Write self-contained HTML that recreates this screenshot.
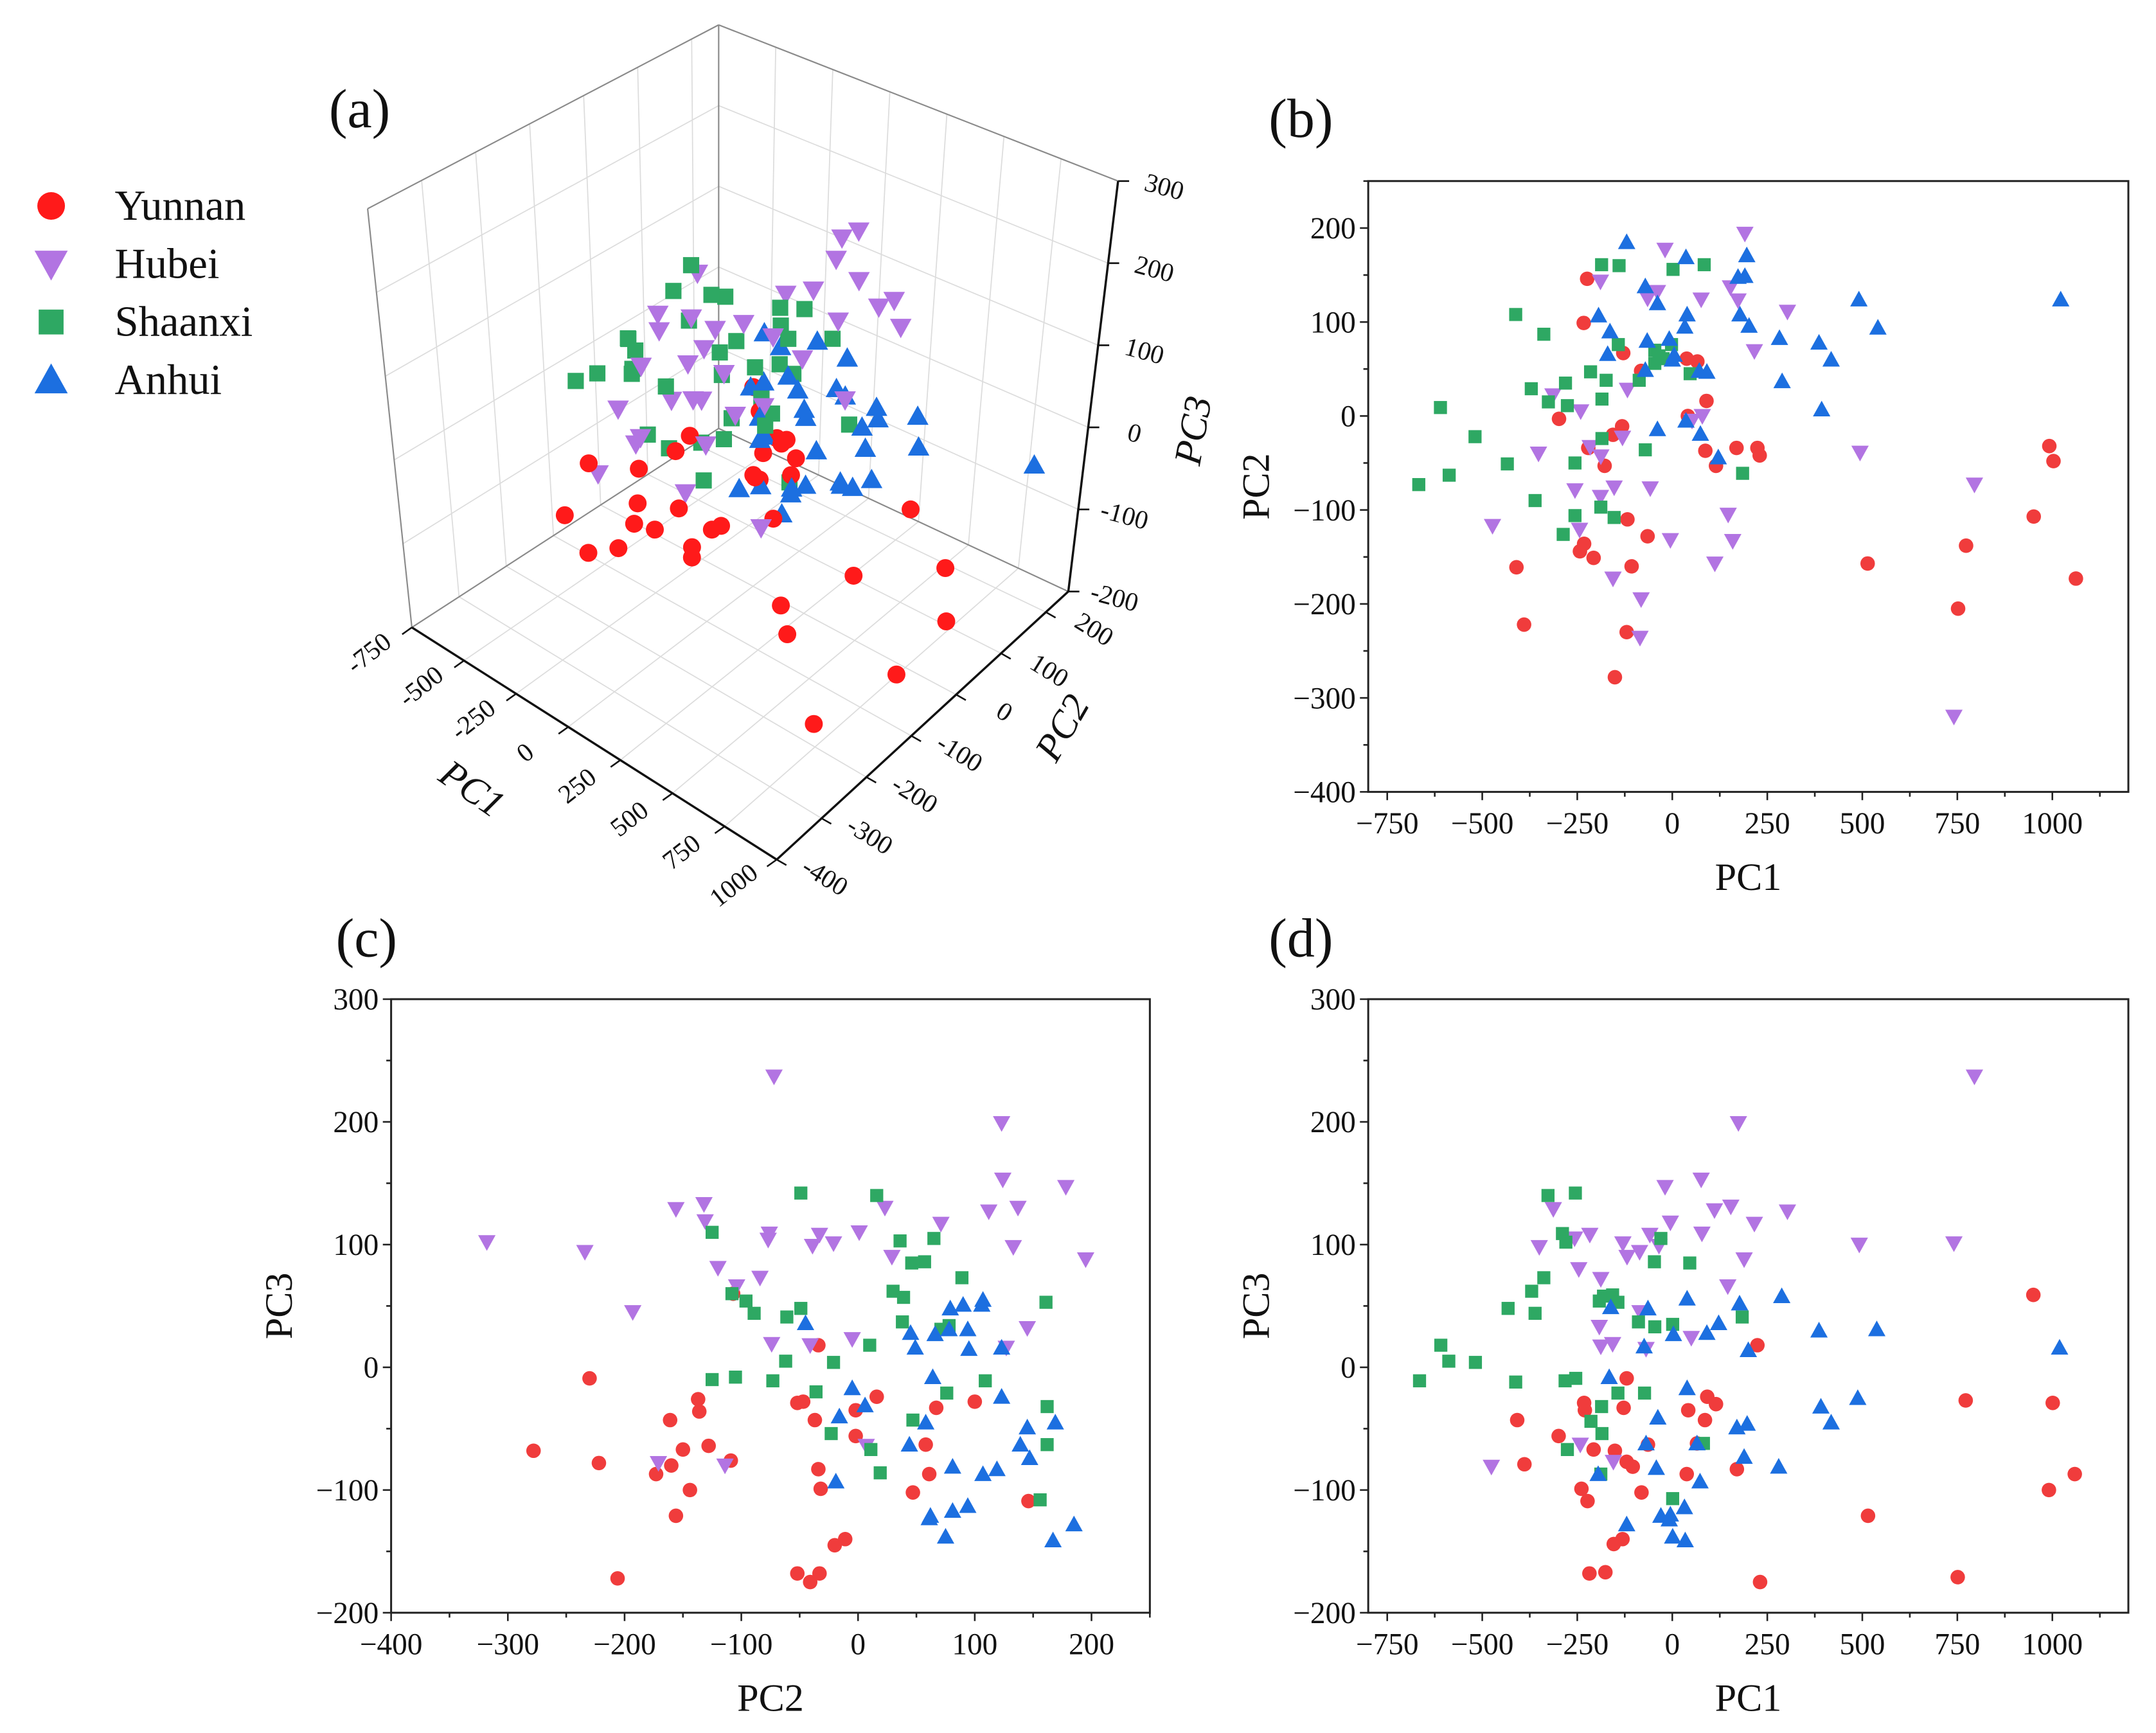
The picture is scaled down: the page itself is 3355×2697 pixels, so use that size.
<!DOCTYPE html>
<html><head><meta charset="utf-8">
<style>
html,body{margin:0;padding:0;background:#fff;}
svg{display:block;}
text{font-family:"Liberation Serif",serif;fill:#111;}
</style></head>
<body>
<svg id="fig" xmlns="http://www.w3.org/2000/svg" width="3355" height="2697" viewBox="0 0 1560 1254">
<rect x="0" y="0" width="1560" height="1254" fill="#fff"/>
<g id="g3d"></g>
<g id="gb"></g>
<g id="gc"></g>
<g id="gd"></g>
<g id="legend"></g>
<text x="238" y="92" font-size="40">(a)</text>
<text x="918" y="99" font-size="40">(b)</text>
<text x="243" y="692" font-size="40">(c)</text>
<text x="918" y="692" font-size="40">(d)</text>
</svg>
<script>
const groups = ["Yunnan","Hubei","Shaanxi","Anhui"];
const colors = ["#ff1a1a","#b274e2","#2ea863","#1c6fe0"];
const colors2d = ["#f03c3c","#b274e2","#2ea863","#1c6fe0"];
// Panel (b): PC1 vs PC2
const bYunnanPC1 = [-224,-233,-129,-82,38,66,90,-298,-132,-156,-221,-178,41,87,115,169,224,230,-118,-65,-232,-243,-207,-107,-410,-390,-120,-151,514,773,951,752,1062,992,1003];
const bYunnanPC2 = [146,99,67,48,61,58,16,-3,-11,-20,-34,-53,0,-37,-53,-34,-34,-42,-110,-128,-136,-144,-151,-160,-161,-222,-230,-278,-157,-138,-107,-205,-173,-32,-48];
const bHubeiPC1 = [191,-19,-189,-39,-65,76,153,173,303,216,-314,-241,-118,52,79,-352,-216,-188,-131,-256,-153,-58,-473,-244,-189,-156,-82,-85,-5,147,159,112,494,795,741];
const bHubeiPC2 = [194,177,143,132,125,124,137,123,111,69,22,5,28,-5,0,-40,-33,-43,-23,-79,-76,-77,-117,-121,-86,-173,-195,-236,-132,-105,-133,-157,-39,-73,-320];
const bShaanxiPC1 = [-186,-140,2,84,-412,-338,-142,-46,-35,-2,-24,-46,47,-215,-174,-371,-281,-87,-326,-276,-185,-610,-519,-185,-434,-256,-71,-587,-667,-361,-256,-188,-153,-287,185];
const bShaanxiPC2 = [161,160,156,161,108,87,76,70,64,76,61,56,45,47,38,29,35,38,15,11,18,9,-22,-24,-51,-50,-36,-63,-73,-90,-106,-97,-108,-126,-61];
const bAnhuiPC1 = [-120,36,196,-71,-39,173,191,491,1022,-194,39,-164,33,-66,-8,-170,178,202,282,386,418,-71,5,0,91,71,289,393,-39,36,74,121,541];
const bAnhuiPC2 = [185,169,171,138,120,148,149,124,124,107,108,90,95,80,82,66,108,96,83,78,60,49,65,60,47,48,37,7,-14,-5,-19,-44,94];
// Panel (d): PC1 vs PC3
const dYunnanPC1 = [950,224,-120,-232,-230,-128,42,92,115,86,-408,-299,-207,-151,-120,-104,-64,-389,38,170,772,1001,1059,991,-239,-223,-81,515,-154,-131,-218,-176,231,751,65];
const dYunnanPC3 = [59,18,-9,-29,-35,-33,-35,-24,-30,-43,-43,-56,-67,-68,-77,-81,-63,-79,-87,-83,-27,-29,-87,-100,-99,-109,-102,-121,-144,-140,-168,-167,-175,-171,-62];
const dHubeiPC1 = [795,174,76,-19,-313,111,154,303,-5,216,-217,-257,-59,78,-350,-130,-35,492,741,-86,-119,189,-246,-188,146,-85,-192,-188,-157,-69,50,-242,-155,-476];
const dHubeiPC3 = [237,199,153,147,129,128,131,127,118,117,108,105,108,109,98,101,99,100,101,94,90,88,80,72,66,45,33,17,19,15,24,-63,-77,-81];
const dShaanxiPC1 = [-327,-255,-289,-280,-30,-47,46,-338,-370,-432,-361,-181,-157,-192,-143,-89,-46,1,184,-609,-588,-518,-665,-412,-282,-254,-143,-73,-186,-214,-185,-276,82,-188,1];
const dShaanxiPC3 = [140,142,109,102,105,86,85,73,62,48,44,58,59,54,53,37,33,35,41,18,5,4,-11,-12,-11,-9,-21,-21,-32,-44,-54,-67,-62,-87,-107];
const dAnhuiPC1 = [288,39,177,-64,-162,386,538,122,91,3,-74,200,1019,-166,39,391,488,418,-38,170,197,-69,65,189,280,-42,73,-195,32,-30,-5,-8,-120,1,34];
const dAnhuiPC3 = [58,56,52,48,49,30,31,36,28,27,17,14,16,-8,-17,-32,-25,-45,-41,-49,-46,-62,-62,-73,-81,-82,-93,-87,-114,-121,-120,-124,-128,-138,-141];
// Panel (c): PC2 vs PC3
const cYunnanPC2 = [-278,-230,-222,-206,-173,-161,-160,-150,-144,-156,-137,-136,-128,-109,-107,-52,-47,-37,-34,-32,-34,-2,-2,16,-52,-41,-33,-20,-11,58,61,67,47,100,146];
const cYunnanPC3 = [-68,-9,-78,-172,-87,-43,-80,-67,-100,-121,-26,-36,-64,-76,60,-29,-28,-43,-83,-99,18,-35,-56,-24,-168,-175,-168,-145,-140,-63,-87,-33,-102,-28,-109];
const cHubeiPC2 = [-318,-234,-193,-156,-132,-131,-120,-104,-84,-76,-77,-72,-33,-39,-21,1,23,29,71,123,124,112,137,133,178,195,145,127,-74,-41,-5,7,-171,-114];
const cHubeiPC3 = [102,94,45,129,133,119,81,66,73,109,104,237,108,99,101,110,130,90,117,199,153,127,130,98,147,88,32,16,19,18,23,-64,-78,-80];
const cShaanxiPC2 = [-125,-49,16,65,36,46,57,89,30,39,161,-108,-96,-89,-61,-49,38,71,78,10,-62,-21,-125,-105,-73,-36,76,109,162,47,-23,11,162,19,156];
const cShaanxiPC3 = [110,142,140,105,103,85,86,73,62,57,53,60,54,44,41,48,37,31,34,18,5,4,-10,-8,-11,-20,-21,-11,-32,-43,-54,-67,-63,-86,-108];
const cAnhuiPC2 = [-45,79,90,107,106,45,49,66,78,94,95,123,64,123,-5,6,-16,58,44,145,169,139,147,-19,81,107,119,62,61,81,94,75,167,185];
const cAnhuiPC3 = [36,48,51,55,51,28,16,27,31,31,15,16,-8,-24,-17,-31,-40,-45,-63,-49,-45,-63,-74,-93,-81,-87,-83,-121,-123,-117,-113,-138,-141,-128];
// Tick labels
const pc1Ticks = [-750,-500,-250,0,250,500,750,1000];
const pc2TicksB = [-400,-300,-200,-100,0,100,200];
const pc2TicksC = [-400,-300,-200,-100,0,100,200];
const pc3Ticks = [-200,-100,0,100,200,300];
const pc2Ticks3d = [-400,-300,-200,-100,0,100,200];

const NS = "http://www.w3.org/2000/svg";
function mk(parent, tag, attrs){
  const e = document.createElementNS(NS, tag);
  for (const k in attrs) e.setAttribute(k, attrs[k]);
  parent.appendChild(e);
  return e;
}
function fmt(v){ return v < 0 ? "\u2212" + Math.abs(v) : String(v); }

function marker(parent, gi, x, y, s, col){
  let e;
  if (gi === 0) e = mk(parent, "circle", {cx:x, cy:y, r:s*0.5, fill:col});
  else if (gi === 1) e = mk(parent, "polygon", {points:`${x-s*0.6},${y-s*0.48} ${x+s*0.6},${y-s*0.48} ${x},${y+s*0.6}`, fill:col});
  else if (gi === 2) e = mk(parent, "rect", {x:x-s*0.45, y:y-s*0.45, width:s*0.9, height:s*0.9, fill:col});
  else e = mk(parent, "polygon", {points:`${x-s*0.6},${y+s*0.48} ${x+s*0.6},${y+s*0.48} ${x},${y-s*0.6}`, fill:col});
  return e;
}

function panel(gid, box, xr, yr, xt, yt, xminor, yminor, series, xtitle, ytitle){
  const g = document.getElementById(gid);
  const [L,R,T,B] = box;
  const sx = v => L + (v - xr[0]) / (xr[1] - xr[0]) * (R - L);
  const sy = v => B - (v - yr[0]) / (yr[1] - yr[0]) * (B - T);
  const fr = mk(g, "rect", {x:L, y:T, width:R-L, height:B-T, fill:"none", stroke:"#222", "stroke-width":1.4});
  
  
  for (let v = Math.ceil(xr[0]/xminor)*xminor; v <= xr[1]; v += xminor) {
    const major = xt.includes(v);
    mk(g, "line", {x1:sx(v), x2:sx(v), y1:B, y2:B+(major?6:3.5), stroke:"#222", "stroke-width":1.2});
  }
  for (let v = Math.ceil(yr[0]/yminor)*yminor; v <= yr[1]; v += yminor) {
    const major = yt.includes(v);
    mk(g, "line", {x1:L, x2:L-(major?6:3.5), y1:sy(v), y2:sy(v), stroke:"#222", "stroke-width":1.2});
  }
  xt.forEach(v => {
    const t = mk(g, "text", {x:sx(v), y:B+30, "font-size":22, "text-anchor":"middle"});
    t.textContent = fmt(v);
    
    
  });
  yt.forEach(v => {
    const t = mk(g, "text", {x:L-9, y:sy(v)+7.5, "font-size":22, "text-anchor":"end"});
    t.textContent = fmt(v);
    
    
  });
  const xtT = mk(g, "text", {x:(L+R)/2, y:B+71, "font-size":28, "text-anchor":"middle"});
  xtT.textContent = xtitle;
  
  
  const cy = (T+B)/2, cx = L - 72;
  const ytT = mk(g, "text", {x:cx, y:cy, "font-size":28, "text-anchor":"middle", transform:`rotate(-90 ${cx} ${cy})`});
  ytT.textContent = ytitle;
  
  
  series.forEach((s, gi) => {
    const sg = mk(g, "g", {});
    
    
    s[0].forEach((xv, i) => {
      const m = marker(sg, gi, sx(xv), sy(s[1][i]), 10.5, colors2d[gi]);
      
      
    });
  });
}

panel("gb", [990,1540,131,573], [-800,1200], [-400,250], pc1Ticks, pc2TicksB, 125, 50,
  [[bYunnanPC1,bYunnanPC2],[bHubeiPC1,bHubeiPC2],[bShaanxiPC1,bShaanxiPC2],[bAnhuiPC1,bAnhuiPC2]], "PC1", "PC2");
panel("gc", [283,832,723,1167], [-400,250], [-200,300], pc2TicksC, pc3Ticks, 50, 50,
  [[cYunnanPC2,cYunnanPC3],[cHubeiPC2,cHubeiPC3],[cShaanxiPC2,cShaanxiPC3],[cAnhuiPC2,cAnhuiPC3]], "PC2", "PC3");
panel("gd", [990,1540,723,1167], [-800,1200], [-200,300], pc1Ticks, pc3Ticks, 125, 50,
  [[dYunnanPC1,dYunnanPC3],[dHubeiPC1,dHubeiPC3],[dShaanxiPC1,dShaanxiPC3],[dAnhuiPC1,dAnhuiPC3]], "PC1", "PC3");

// ---- 3D panel ----
const g3 = document.getElementById("g3d");
const FL = {L:[298,454], F:[562,622], R:[773,428], B:[520,310]};
const TP = {L:[266,151], F:[566,296], R:[809,131], B:[520,18]};
function bil(c, u, v){
  const x = c.L[0]*(1-u)*(1-v) + c.F[0]*u*(1-v) + c.R[0]*u*v + c.B[0]*(1-u)*v;
  const y = c.L[1]*(1-u)*(1-v) + c.F[1]*u*(1-v) + c.R[1]*u*v + c.B[1]*(1-u)*v;
  return [x,y];
}
function P(p1,p2,p3){
  const u = (p1+750)/1750, v = (p2+400)/650, w = (p3+200)/500;
  const a = bil(FL,u,v), b = bil(TP,u,v);
  return [a[0]+(b[0]-a[0])*w, a[1]+(b[1]-a[1])*w];
}
function ln(p, q, col, sw, name){
  const e = mk(g3, "line", {x1:p[0], y1:p[1], x2:q[0], y2:q[1], stroke:col, "stroke-width":sw});
  
  
}
const GC = "#dcdcdc";
// left wall (PC1=-750)
pc2Ticks3d.forEach(v => ln(P(-750,v,-200), P(-750,v,300), GC, 0.8, 'grid-left-wall'));
pc3Ticks.forEach(v => ln(P(-750,-400,v), P(-750,250,v), GC, 0.8, 'grid-left-wall'));
// right wall (PC2=250)
pc1Ticks.forEach(v => ln(P(v,250,-200), P(v,250,300), GC, 0.8, 'grid-right-wall'));
pc3Ticks.forEach(v => ln(P(-750,250,v), P(1000,250,v), GC, 0.8, 'grid-right-wall'));
// floor
pc1Ticks.forEach(v => ln(P(v,-400,-200), P(v,250,-200), GC, 0.8, 'grid-floor'));
pc2Ticks3d.forEach(v => ln(P(-750,v,-200), P(1000,v,-200), GC, 0.8, 'grid-floor'));
// box edges
const EC = "#8a8a8a";
ln(P(-750,-400,-200), P(-750,-400,300), EC, 1, 'box-edge');
ln(P(-750,-400,300), P(-750,250,300), EC, 1, 'box-edge');
ln(P(-750,250,-200), P(-750,250,300), EC, 1, 'box-edge');
ln(P(-750,250,300), P(1000,250,300), EC, 1, 'box-edge');
ln(P(-750,-400,-200), P(-750,250,-200), EC, 1, 'box-edge');
ln(P(-750,250,-200), P(1000,250,-200), EC, 1, 'box-edge');
// axes
ln(P(-750,-400,-200), P(1000,-400,-200), "#111", 1.6, 'pc1-axis');
ln(P(1000,-400,-200), P(1000,250,-200), "#111", 1.6, 'pc2-axis');
ln(P(1000,250,-200), P(1000,250,300), "#111", 1.6, 'pc3-axis');
function lbl3(txt, x, y, rot, size, name, italic){
  const t = mk(g3, "text", {x:x, y:y, "font-size":size, "text-anchor":"middle", "dominant-baseline":"middle", transform:`rotate(${rot} ${x} ${y})`});
  if (italic) t.setAttribute("font-style","italic");
  t.textContent = txt;
  
  
}
pc1Ticks.forEach(v => {
  const p = P(v,-400,-200);
  ln(p, [p[0]-7,p[1]+5], "#111", 1.2, 'pc1-tick');
  lbl3(fmt(v).replace("\u2212","-"), p[0]-30, p[1]+20, -38, 19, 'pc1-tick-label');
});
pc2Ticks3d.forEach(v => {
  const p = P(1000,v,-200);
  ln(p, [p[0]+7,p[1]+4], "#111", 1.2, 'pc2-tick');
  lbl3(fmt(v).replace("\u2212","-"), p[0]+34, p[1]+14, 32, 19, 'pc2-tick-label');
});
pc3Ticks.forEach(v => {
  const p = P(1000,250,v);
  ln(p, [p[0]+8,p[1]], "#111", 1.2, 'pc3-tick');
  lbl3(fmt(v).replace("\u2212","-"), p[0]+33, p[1]+6, 15, 19, 'pc3-tick-label');
});
lbl3("PC1", 340, 573, 35, 28, 'pc1-axis-title', true);
lbl3("PC2", 771, 528, -60, 28, 'pc2-axis-title', true);
lbl3("PC3", 866, 312, -80, 28, 'pc3-axis-title', true);
// triples: pair panel (b) points with panel (d) PC3 via nearest PC1
const bSets = [[bYunnanPC1,bYunnanPC2],[bHubeiPC1,bHubeiPC2],[bShaanxiPC1,bShaanxiPC2],[bAnhuiPC1,bAnhuiPC2]];
const dSets = [[dYunnanPC1,dYunnanPC3],[dHubeiPC1,dHubeiPC3],[dShaanxiPC1,dShaanxiPC3],[dAnhuiPC1,dAnhuiPC3]];
const pts3 = [];
bSets.forEach((bs, gi) => {
  const ds = dSets[gi];
  const used = new Array(ds[0].length).fill(false);
  bs[0].forEach((p1, i) => {
    let best = -1, bd = 1e9;
    ds[0].forEach((q, j) => { const dd = Math.abs(q - p1) + (used[j] ? 1e5 : 0); if (dd < bd) { bd = dd; best = j; } });
    used[best] = true;
    pts3.push({gi:gi, p1:p1, p2:bs[1][i], p3:ds[1][best]});
  });
});
pts3.sort((a,b) => ((a.p1+750)/1750 - (a.p2+400)/650) - ((b.p1+750)/1750 - (b.p2+400)/650));
const s3 = mk(g3, "g", {});


pts3.forEach(o => {
  const q = P(o.p1, o.p2, o.p3);
  const m = marker(s3, o.gi, q[0], q[1], 13, colors[o.gi]);
  
  
});

// legend
const lg = document.getElementById("legend");
groups.forEach((name, gi) => {
  const y = 149 + gi*42;
  const m = marker(lg, gi, 37, y, 20, colors[gi]);
  
  
  const t = mk(lg, "text", {x:83, y:y+10, "font-size":31});
  t.textContent = name;
  
  
});
</script>
</body></html>
